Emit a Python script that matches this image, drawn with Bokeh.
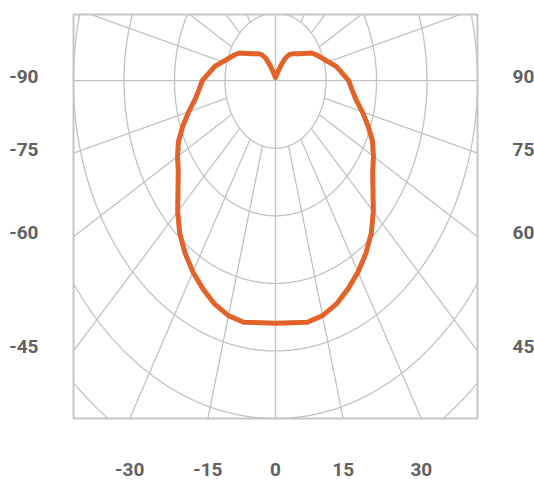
import numpy as np
from bokeh.plotting import figure
from bokeh.models import Range1d
from bokeh.core.properties import value
from bokeh.embed import file_html
from bokeh.resources import INLINE

# ---- data ----
# polar angle measured from straight down (degrees) and intensity in ring units
ANGLES_DEG = [0, 10, 15, 20, 25, 30, 35, 40, 45, 50, 55, 60, 65, 70, 75, 80, 85, 90,
              100, 110, 115, 120, 130, 140, 145, 150, 155, 160, 170, 180]
INTENSITY = [3.59, 3.63, 3.60, 3.52, 3.40, 3.27, 3.12, 2.95, 2.74, 2.52, 2.35, 2.24, 2.12,
             1.95, 1.78, 1.62, 1.52, 1.45, 1.22, 0.98, 0.90, 0.82, 0.62, 0.52, 0.47, 0.38,
             0.24, 0.14, 0.07, 0.05]

RINGS = [1, 2, 3, 4, 5, 6]
SPOKE_STEP = 15

LEFT_ANGLES = [90, 75, 60, 45]
LEFT_LABELS = ["-90", "-75", "-60", "-45"]
RIGHT_ANGLES = [90, 75, 60, 45]
RIGHT_LABELS = ["90", "75", "60", "45"]
BOTTOM_ANGLES = [-30, -15, 0, 15, 30]
BOTTOM_LABELS = ["-30", "-15", "0", "15", "30"]

# ---- styling / layout ----
GRID = "#c2c2c6"
BOX = "#c6c6c6"
CURVE = "#e2622a"
TEXT = "#616161"
FONT = "Roboto"
FONT_SIZE = "19px"

W, H = 534, 483
BOX_L, BOX_T, BOX_SIZE = 73, 14, 404          # pixel placement of the diagram box
X_MIN, X_MAX = -4.0, 4.0                      # box extent in ring units
Y_MIN, Y_MAX = -5.0, 0.98
PXX = BOX_SIZE / (X_MAX - X_MIN)
PXY = BOX_SIZE / (Y_MAX - Y_MIN)

x_range = Range1d(X_MIN - BOX_L / PXX, X_MAX + (W - BOX_L - BOX_SIZE) / PXX)
y_range = Range1d(Y_MIN - (H - BOX_T - BOX_SIZE) / PXY, Y_MAX + BOX_T / PXY)

p = figure(width=W, height=H, x_range=x_range, y_range=y_range,
           output_backend="svg", toolbar_location=None,
           x_axis_location=None, y_axis_location=None, title=None,
           min_border=0, min_border_left=0, min_border_right=0,
           min_border_top=0, min_border_bottom=0)
p.background_fill_color = "white"
p.border_fill_color = "white"
p.outline_line_color = None
for g in p.grid:
    g.visible = False


def clip(x, y):
    x = np.asarray(x, dtype=float).copy()
    y = np.asarray(y, dtype=float).copy()
    out = (x < X_MIN) | (x > X_MAX) | (y < Y_MIN) | (y > Y_MAX)
    x[out] = np.nan
    y[out] = np.nan
    return x, y


# rings
t = np.linspace(0, 2 * np.pi, 4001)
for r in RINGS:
    cx, cy = clip(r * np.cos(t), r * np.sin(t))
    p.line(cx, cy, line_color=GRID, line_width=1.3)

# spokes (start on the innermost ring)
s = np.linspace(1, 12, 3000)
for a in range(-180 + SPOKE_STEP, 180, SPOKE_STEP):
    if a in (0, 90, -90):
        continue
    ang = np.radians(a)
    cx, cy = clip(s * np.sin(ang), -s * np.cos(ang))
    p.line(cx, cy, line_color=GRID, line_width=1.3)
# axes through the centre
p.line([0, 0], [Y_MIN, Y_MAX], line_color=GRID, line_width=1.3)
p.line([X_MIN, X_MAX], [0, 0], line_color=GRID, line_width=1.3)

# box
p.quad(left=X_MIN, right=X_MAX, bottom=Y_MIN, top=Y_MAX,
       fill_color=None, line_color=BOX, line_width=2)

# curve (symmetric)
ang = np.array(ANGLES_DEG, dtype=float)
rad = np.array(INTENSITY, dtype=float)
full_a = np.concatenate([-ang[::-1], ang[1:]])
full_r = np.concatenate([rad[::-1], rad[1:]])
tt = np.radians(full_a)
p.line(x=full_r * np.sin(tt), y=-full_r * np.cos(tt),
       line_color=CURVE, line_width=5, line_join="round", line_cap="round")


# labels where the spokes leave the box
def side_pos(angles, edge):
    return [float(-abs(edge) / np.tan(np.radians(a))) if a != 90 else 0.0 for a in angles]


TEXT_LIFT = 4 / PXY     # labels sit slightly above the spoke ends
SIDE_GAP = 35           # px between box and side labels
BOTTOM_GAP = 51         # px between box bottom and bottom label centres

left_y = [v + TEXT_LIFT for v in side_pos(LEFT_ANGLES, X_MIN)]
right_y = [v + TEXT_LIFT for v in side_pos(RIGHT_ANGLES, X_MAX)]
bottom_x = [float(abs(Y_MIN) * np.tan(np.radians(a))) for a in BOTTOM_ANGLES]

common = dict(text_font=value(FONT), text_font_size=FONT_SIZE,
              text_font_style="bold", text_color=TEXT, text_baseline="middle")
p.text(x=[X_MIN - SIDE_GAP / PXX] * len(left_y), y=left_y, text=LEFT_LABELS,
       text_align="right", **common)
p.text(x=[X_MAX + SIDE_GAP / PXX] * len(right_y), y=right_y, text=RIGHT_LABELS,
       text_align="left", **common)
p.text(x=bottom_x, y=[Y_MIN - BOTTOM_GAP / PXY] * len(bottom_x), text=BOTTOM_LABELS,
       text_align="center", **common)

open("out.html", "w").write(file_html(p, INLINE))
